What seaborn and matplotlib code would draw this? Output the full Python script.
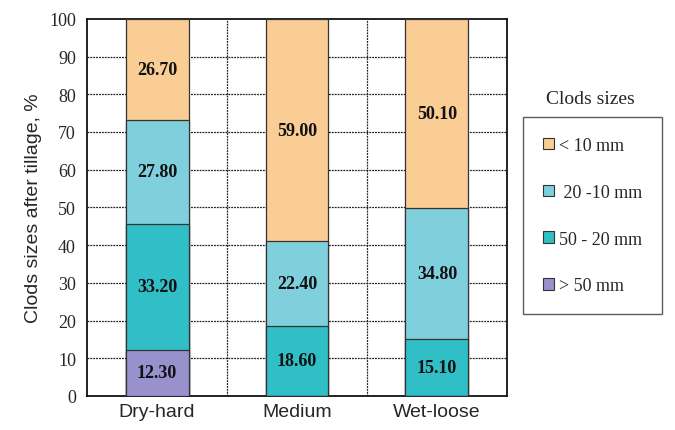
import matplotlib
matplotlib.use("Agg")
import matplotlib.pyplot as plt
import matplotlib.patches as mpatches
import numpy as np
import seaborn as sns

categories = ["Dry-hard", "Medium", "Wet-loose"]
size_classes = ["> 50 mm", "50 - 20 mm", " 20 -10 mm", "< 10 mm"]
gt_50 = [12.30, 0.0, 0.0]
mm_50_20 = [33.20, 18.60, 15.10]
mm_20_10 = [27.80, 22.40, 34.80]
lt_10 = [26.70, 59.00, 50.10]
colors = ["#9891CD", "#30BFC6", "#80CFDC", "#FACD94"]
y_ticks = list(range(0, 101, 10))

layers = [gt_50, mm_50_20, mm_20_10, lt_10]
tops = np.cumsum(np.array(layers), axis=0)

sns.set_style("white")
fig = plt.figure(figsize=(6.75, 4.31), dpi=100)
ax = fig.add_axes([0.129, 0.079, 0.622, 0.875])

# stack by drawing cumulative totals, tallest first
for i in range(len(layers) - 1, -1, -1):
    sns.barplot(x=categories, y=tops[i], color=colors[i], width=0.45,
                edgecolor="#333333", linewidth=0.9, errorbar=None,
                saturation=1, ax=ax, zorder=3)

for i, layer in enumerate(layers):
    for j, v in enumerate(layer):
        if v > 0:
            ax.text(j, tops[i][j] - v / 2, f"{v:.2f}", ha="center", va="center",
                    fontsize=13, fontweight="bold", family="Liberation Serif",
                    color="#111111", zorder=5)

ax.set_xlim(-0.5, 2.5)
ax.set_ylim(0, 100)
ax.set_yticks(y_ticks)
ax.set_yticklabels([str(t) for t in y_ticks], family="Liberation Serif", fontsize=13)
ax.set_xticks(range(len(categories)))
ax.set_xticklabels(categories, family="Liberation Sans", fontsize=14)
ax.tick_params(axis="y", direction="in", length=3, pad=8, color="#222222")
ax.tick_params(axis="x", length=0, pad=5)
ax.set_ylabel("Clods sizes after tillage, %", family="Liberation Sans", fontsize=14, labelpad=5)
ax.set_xlabel("")

for y in y_ticks[1:-1]:
    ax.axhline(y, color="#222222", linestyle=(0, (1.5, 0.8)), linewidth=0.9, zorder=1)
for x in [0.5, 1.5]:
    ax.axvline(x, color="#222222", linestyle=(0, (1.5, 0.8)), linewidth=0.9, zorder=1)

for s in ax.spines.values():
    s.set_color("#111111")
    s.set_linewidth(1.3)

handles = [mpatches.Patch(facecolor=colors[i], edgecolor="#333333", linewidth=0.8)
           for i in range(len(layers) - 1, -1, -1)]
labels = [size_classes[i] for i in range(len(layers) - 1, -1, -1)]
leg = fig.legend(handles, labels, loc="upper left", bbox_to_anchor=(0.775, 0.726),
                 prop={"family": "Liberation Serif", "size": 13}, frameon=True,
                 fancybox=False, edgecolor="#333333", labelspacing=1.65,
                 handlelength=0.6, handleheight=0.6, handletextpad=0.3,
                 borderpad=1.1, borderaxespad=0)
leg.get_frame().set_linewidth(1.0)
fig.text(0.875, 0.768, "Clods sizes", ha="center", va="center",
         family="Liberation Serif", fontsize=14)

fig.savefig("out.png", dpi=100)
